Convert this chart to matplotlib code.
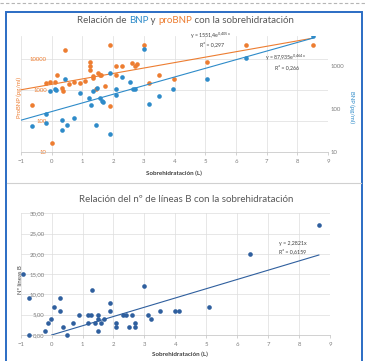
import matplotlib
matplotlib.use("Agg")
import matplotlib.pyplot as plt
from matplotlib.patches import Rectangle
from matplotlib.lines import Line2D
from matplotlib.ticker import FixedLocator, FixedFormatter, NullLocator
import numpy as np

plt.rcParams['font.family'] = ['Lato', 'DejaVu Sans']

# ---- datos gráfico 1: BNP / proBNP frente a sobrehidratación ----
probnp_x = [-0.64, 0.01, 0.42, 0.17, -0.07, 0.12, -0.17, 0.34, 0.37, 0.55,
            0.73, 0.91, 1.10, 1.24, 1.24, 1.24, 1.33, 1.36, 1.56, 1.52,
            1.60, 1.73, 1.90, 1.89, 2.10, 2.30, 2.10, 2.60, 2.70, 2.78,
            3.00, 3.16, 3.49, 3.98, 5.07, 6.34, 8.50, 1.45]
probnp_y = [340, 19, 20000, 3200, 1850, 1850, 1750, 1200, 950, 1600,
            1850, 1750, 1950, 8500, 6300, 4400, 2500, 2800, 3200, 3500,
            3000, 1350, 30000, 320, 5900, 5900, 3200, 7600, 6300, 7000,
            30000, 1750, 3200, 2350, 8000, 30000, 30000, 1100]

bnp_x = [-0.64, -0.17, -0.17, -0.07, 0.10, 0.15, 0.34, 0.34, 0.51, 0.42,
         0.73, 0.91, 1.22, 1.29, 1.33, 1.43, 1.48, 1.56, 1.63, 1.68,
         1.89, 1.89, 2.29, 2.10, 2.10, 2.54, 2.64, 2.72, 3.00, 3.17,
         3.49, 3.95, 5.07, 6.32, 8.50]
bnp_y = [41, 76, 48, 263, 290, 275, 55, 32, 43, 500,
         63, 240, 178, 123, 270, 43, 316, 178, 158, 148,
         710, 26, 560, 300, 214, 430, 300, 300, 2570, 132,
         200, 290, 510, 1580, 5200]

# líneas de tendencia exponenciales (y = a*e^(k*x))
probnp_a, probnp_k, probnp_r2 = 1551.4, 0.405, "0,297"
bnp_a, bnp_k, bnp_r2 = 87.935, 0.464, "0,266"

left_ticks = [10, 100, 1000, 10000]
right_ticks = [10, 100, 1000]
x_ticks = list(range(-1, 10))

# ---- datos gráfico 2: nº de líneas B ----
lineas_x = [-0.94, -0.72, -0.72, -0.21, -0.13, -0.02, 0.08, 0.27, 0.27, 0.38,
            0.49, 0.70, 0.89, 1.17, 1.26, 1.19, 1.30, 1.40, 1.49, 1.49,
            1.51, 1.60, 1.69, 1.89, 1.89, 2.08, 2.08, 2.30, 2.41, 2.51,
            2.59, 2.70, 2.70, 3.00, 3.11, 3.20, 3.50, 3.99, 4.12, 5.10,
            6.41, 8.64]
lineas_y = [15, 9, 0, 1, 3, 4, 7, 9, 6, 2,
            0, 3, 5, 5, 5, 3, 11, 3, 5, 1,
            4, 3, 4, 8, 6, 3, 2, 5, 5, 2,
            5, 3, 2, 12, 5, 4, 6, 6, 6, 7,
            20, 27]
lineas_k, lineas_r2 = 2.2821, "0,6159"
lineas_ticks = [0, 5, 10, 15, 20, 25, 30]

ORANGE = "#ED7D31"
BLUE = "#2E8BC9"
DARKBLUE = "#2F5F9E"
GRID = "#DDDDDD"
GREY = "#7F7F7F"
TITLE = "#595959"

fig = plt.figure(figsize=(3.66, 3.61), dpi=100)

# marco y separadores de la página
fig.add_artist(Line2D([0, 1], [1 - 3 / 361] * 2, transform=fig.transFigure,
                      color="#B5B5B5", lw=0.8, ls=(0, (3, 2))))
fig.add_artist(Rectangle((6 / 366, -0.02), 356 / 366, 1 - 12 / 361 + 0.02,
                         transform=fig.transFigure, fill=False,
                         ec="#2B6CC4", lw=1.4))
fig.add_artist(Line2D([7 / 366, 361 / 366], [1 - 183 / 361] * 2,
                      transform=fig.transFigure, color="#D0D0D0", lw=0.8))


def style_axes(ax):
    for s in ax.spines.values():
        s.set_visible(False)
    ax.tick_params(axis="y", length=0, labelsize=4.3, pad=3.5)
    ax.tick_params(axis="x", length=2, width=0.5, color="#BFBFBF",
                   labelsize=4.3, labelcolor=GREY, pad=3)


def chained_title(pieces, x, y, size):
    prev = None
    for txt, col in pieces:
        if prev is None:
            prev = fig.text(x, y, txt, color=col, fontsize=size,
                            ha="left", va="bottom")
        else:
            prev = ax_top.annotate(txt, xy=(1, 0), xycoords=prev, color=col,
                                   fontsize=size, ha="left", va="bottom",
                                   annotation_clip=False)


# ------------------ gráfico superior ------------------
ax_top = fig.add_axes([21 / 366, 1 - 152 / 361, 307 / 366, 116 / 361])
ax_top.set_yscale("log")
ax_top.set_xlim(-1, 9)
ax_top.set_ylim(10, 57000)
style_axes(ax_top)
ax_top.spines["left"].set_position(("data", 0))
ax_top.spines["bottom"].set_visible(True)
ax_top.spines["bottom"].set_color("#BFBFBF")
ax_top.spines["bottom"].set_linewidth(0.5)
ax_top.xaxis.set_major_locator(FixedLocator(x_ticks))
ax_top.yaxis.set_major_locator(FixedLocator(left_ticks))
ax_top.yaxis.set_major_formatter(FixedFormatter([str(t) for t in left_ticks]))
ax_top.yaxis.set_minor_locator(NullLocator())
ax_top.tick_params(axis="y", labelcolor=ORANGE)
ax_top.grid(True, color=GRID, lw=0.5)
ax_top.set_axisbelow(True)

ax_r = ax_top.twinx()
ax_r.set_yscale("log")
ax_r.set_ylim(10, 5100)
style_axes(ax_r)
ax_r.yaxis.set_major_locator(FixedLocator(right_ticks))
ax_r.yaxis.set_major_formatter(FixedFormatter([str(t) for t in right_ticks]))
ax_r.yaxis.set_minor_locator(NullLocator())
ax_r.tick_params(axis="y", labelcolor=GREY, pad=2)

ax_top.scatter(probnp_x, probnp_y, s=11, color=ORANGE, lw=0, zorder=3)
ax_r.scatter(bnp_x, bnp_y, s=11, color=BLUE, lw=0, zorder=3)

xt = np.linspace(-1, max(probnp_x), 50)
ax_top.plot(xt, probnp_a * np.exp(probnp_k * xt), color=ORANGE, lw=0.8, zorder=2)
xb = np.linspace(-1, max(bnp_x), 50)
ax_r.plot(xb, bnp_a * np.exp(bnp_k * xb), color=BLUE, lw=0.8, zorder=2)

fig.text(210 / 366, 1 - 36 / 361,
         "y = 1551,4e$^{\\mathregular{0{,}405x}}$", fontsize=3.8,
         color="#404040", ha="center", va="center")
fig.text(212 / 366, 1 - 44 / 361, "R² = " + probnp_r2, fontsize=3.8,
         color="#404040", ha="center", va="center")
fig.text(285 / 366, 1 - 58 / 361,
         "y = 87,935e$^{\\mathregular{0{,}464x}}$", fontsize=3.8,
         color="#404040", ha="center", va="center")
fig.text(287 / 366, 1 - 67 / 361, "R² = " + bnp_r2, fontsize=3.8,
         color="#404040", ha="center", va="center")

fig.text(19 / 366, 1 - 97 / 361, "ProBNP (pg/ml)", rotation=90, fontsize=4.3,
         color=ORANGE, ha="center", va="center")
fig.text(352 / 366, 1 - 107 / 361, "BNP (pg/ml)", rotation=270, fontsize=4.3,
         color=BLUE, ha="center", va="center")
fig.text(174 / 366, 1 - 173 / 361, "Sobrehidratación (L)", fontsize=4.5,
         color="#404040", weight="bold", ha="center", va="center")

chained_title([("Relación de ", TITLE), ("BNP", BLUE), (" y ", TITLE),
               ("proBNP", ORANGE), (" con la sobrehidratación", TITLE)],
              77 / 366, 1 - 25 / 361, 7.0)

# ------------------ gráfico inferior ------------------
ax_b = fig.add_axes([20.7 / 366, 1 - 335 / 361, 309.3 / 366, 121.7 / 361])
ax_b.set_xlim(-1, 9)
ax_b.set_ylim(0, 30)
style_axes(ax_b)
ax_b.spines["left"].set_position(("data", 0))
ax_b.spines["bottom"].set_visible(True)
ax_b.spines["bottom"].set_color("#BFBFBF")
ax_b.spines["bottom"].set_linewidth(0.5)
ax_b.xaxis.set_major_locator(FixedLocator(x_ticks))
ax_b.yaxis.set_major_locator(FixedLocator(lineas_ticks))
ax_b.yaxis.set_major_formatter(
    FixedFormatter([f"{t:.2f}".replace(".", ",") for t in lineas_ticks]))
ax_b.tick_params(axis="y", labelcolor=GREY, pad=5)
ax_b.grid(True, color=GRID, lw=0.5)
ax_b.set_axisbelow(True)

ax_b.scatter(lineas_x, lineas_y, s=11, color=DARKBLUE, lw=0, zorder=3, clip_on=False)
xl = np.linspace(0, max(lineas_x), 20)
ax_b.plot(xl, lineas_k * xl, color=DARKBLUE, lw=0.8, zorder=2)

fig.text(293 / 366, 1 - 243 / 361, "y = 2,2821x", fontsize=3.8,
         color="#404040", ha="center", va="center")
fig.text(293 / 366, 1 - 251 / 361, "R² = " + lineas_r2, fontsize=3.8,
         color="#404040", ha="center", va="center")

fig.text(21 / 366, 1 - 280 / 361, "Nº líneas B", rotation=90, fontsize=4.3,
         color="#404040", ha="center", va="center")
fig.text(180 / 366, 1 - 354 / 361, "Sobrehidratación (L)", fontsize=4.5,
         color="#404040", weight="bold", ha="center", va="center")
fig.text(186 / 366, 1 - 200 / 361,
         "Relación del nº de líneas B con la sobrehidratación",
         fontsize=7.0, color=TITLE, ha="center", va="center")

fig.savefig("out.png", dpi=100)
